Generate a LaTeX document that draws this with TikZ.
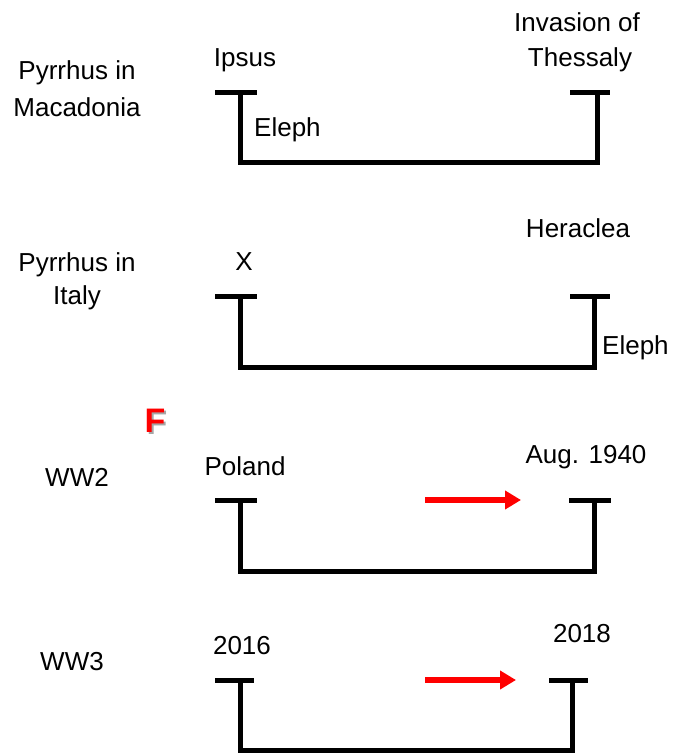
\documentclass[tikz,border=0pt]{standalone}
\usepackage{fontspec}
\setmainfont{Liberation Sans}
\usetikzlibrary{arrows.meta}
\begin{document}
\begin{tikzpicture}[x=1pt,y=-1pt,
  lbl/.style={inner sep=0pt,font=\fontsize{26}{30}\selectfont,text=black},
  brk/.style={line width=5pt,black},
  redarrow/.style={line width=5.5pt,red,-{Triangle[length=16pt,width=18pt]}}]
\useasboundingbox (0,0) rectangle (685,755);
% texts
\node[lbl] (t1a) at (77,73) {Pyrrhus in};
\node[lbl] (t1b) at (77,107) {Macadonia};
\node[lbl] (ipsus) at (245,60) {Ipsus};
\node[lbl] (inv1) at (577,22) {Invasion of};
\node[lbl] (inv2) at (580,60) {Thessaly};
\node[lbl,anchor=west] (el1) at (254,130) {Eleph};
\node[lbl] (t2a) at (77,265) {Pyrrhus in};
\node[lbl] (t2b) at (77,298) {Italy};
\node[lbl] (x) at (244,262) {X};
\node[lbl] (her) at (578,228) {Heraclea};
\node[lbl,anchor=west] (el2) at (602,348) {Eleph};
\node[inner sep=0pt,font=\fontsize{34}{38}\selectfont\bfseries,text=gray!70] at (157,423) {F};
\node[inner sep=0pt,font=\fontsize{34}{38}\selectfont\bfseries,text=red] (f) at (155,421) {F};
\node[lbl] (ww2) at (77,477) {WW2};
\node[lbl] (pol) at (245,466) {Poland};
\node[lbl] (aug) at (586,457) {Aug. 1940};
\node[lbl] (ww3) at (72,662) {WW3};
\node[lbl] (y16) at (242,646) {2016};
\node[lbl] (y18) at (582,634) {2018};
% brackets
\draw[brk] (215,92.5) -- (257,92.5);
\draw[brk] (570,92.5) -- (610,92.5);
\draw[brk] (240.5,92.5) |- (597,162.5) -- (597,92.5);
\draw[brk] (215,296) -- (257,296);
\draw[brk] (570,296) -- (610,296);
\draw[brk] (240.5,296) |- (594,367) -- (594,296);
\draw[brk] (215,500) -- (257,500);
\draw[brk] (569,500) -- (611,500);
\draw[brk] (240.5,500) |- (594,571) -- (594,500);
\draw[brk] (215,680) -- (254,680);
\draw[brk] (549,680) -- (588,680);
\draw[brk] (240,680) |- (572,750) -- (572,680);
% arrows
\coordinate (a3s) at (425,500); \coordinate (a3e) at (521,500);
\coordinate (a4s) at (425,680); \coordinate (a4e) at (516,680);
\draw[redarrow] (a3s) -- (a3e);
\draw[redarrow] (a4s) -- (a4e);
\end{tikzpicture}
\end{document}
